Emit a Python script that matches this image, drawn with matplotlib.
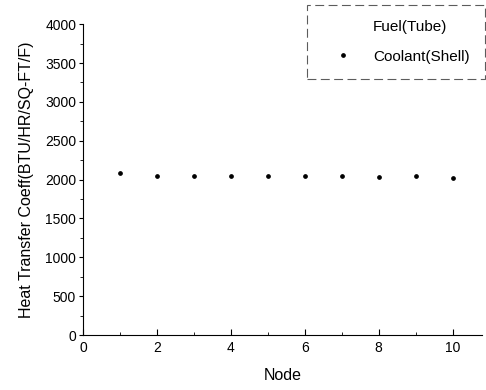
import matplotlib
matplotlib.use('Agg')
import matplotlib.pyplot as plt
from matplotlib.ticker import MultipleLocator

plt.rcParams['font.family'] = ['Liberation Sans', 'DejaVu Sans']

# data
nodes = [1, 2, 3, 4, 5, 6, 7, 8, 9, 10]
coolant_htc = [2085, 2045, 2045, 2050, 2040, 2040, 2040, 2035, 2040, 2020]
fuel_nodes = []
fuel_htc = []

x_ticks = [0, 2, 4, 6, 8, 10]
y_ticks = [0, 500, 1000, 1500, 2000, 2500, 3000, 3500, 4000]

fig = plt.figure(figsize=(4.86, 3.9), dpi=100)
ax = fig.add_axes([0.171, 0.141, 0.821, 0.797])

ax.plot(fuel_nodes, fuel_htc, ls='none', marker='none', label='Fuel(Tube)')
ax.plot(nodes, coolant_htc, ls='none', marker='o', ms=2.4, color='black',
        label='Coolant(Shell)')

ax.set_xlim(0, 10.8)
ax.set_ylim(0, 4000)
ax.set_xticks(x_ticks)
ax.set_yticks(y_ticks)
ax.xaxis.set_minor_locator(MultipleLocator(1))
ax.yaxis.set_minor_locator(MultipleLocator(250))

ax.spines['top'].set_visible(False)
ax.spines['right'].set_visible(False)
ax.spines['left'].set_linewidth(0.8)
ax.spines['bottom'].set_linewidth(0.8)
ax.spines['bottom'].set_linestyle((0, (6, 1)))

ax.tick_params(axis='x', which='both', direction='in', labelsize=10, pad=4)
ax.tick_params(axis='x', which='major', length=4)
ax.tick_params(axis='x', which='minor', length=2)
ax.tick_params(axis='y', which='both', direction='out', labelsize=10, pad=2)
ax.tick_params(axis='y', which='major', length=3)
ax.tick_params(axis='y', which='minor', length=2)

ax.set_xlabel('Node', fontsize=11.5, labelpad=10)
ax.set_ylabel('Heat Transfer Coeff(BTU/HR/SQ-FT/F)', fontsize=11.5, labelpad=8)

leg = ax.legend(loc='upper right', bbox_to_anchor=(0.998, 0.987),
                bbox_transform=fig.transFigure, fontsize=11,
                frameon=True, fancybox=False, handlelength=2.6,
                handletextpad=0.7, labelspacing=1.0, borderpad=1.0,
                borderaxespad=0)
frame = leg.get_frame()
frame.set_edgecolor('#333333')
frame.set_linestyle((0, (8, 4)))
frame.set_linewidth(0.8)

fig.savefig('out.png', dpi=100)
